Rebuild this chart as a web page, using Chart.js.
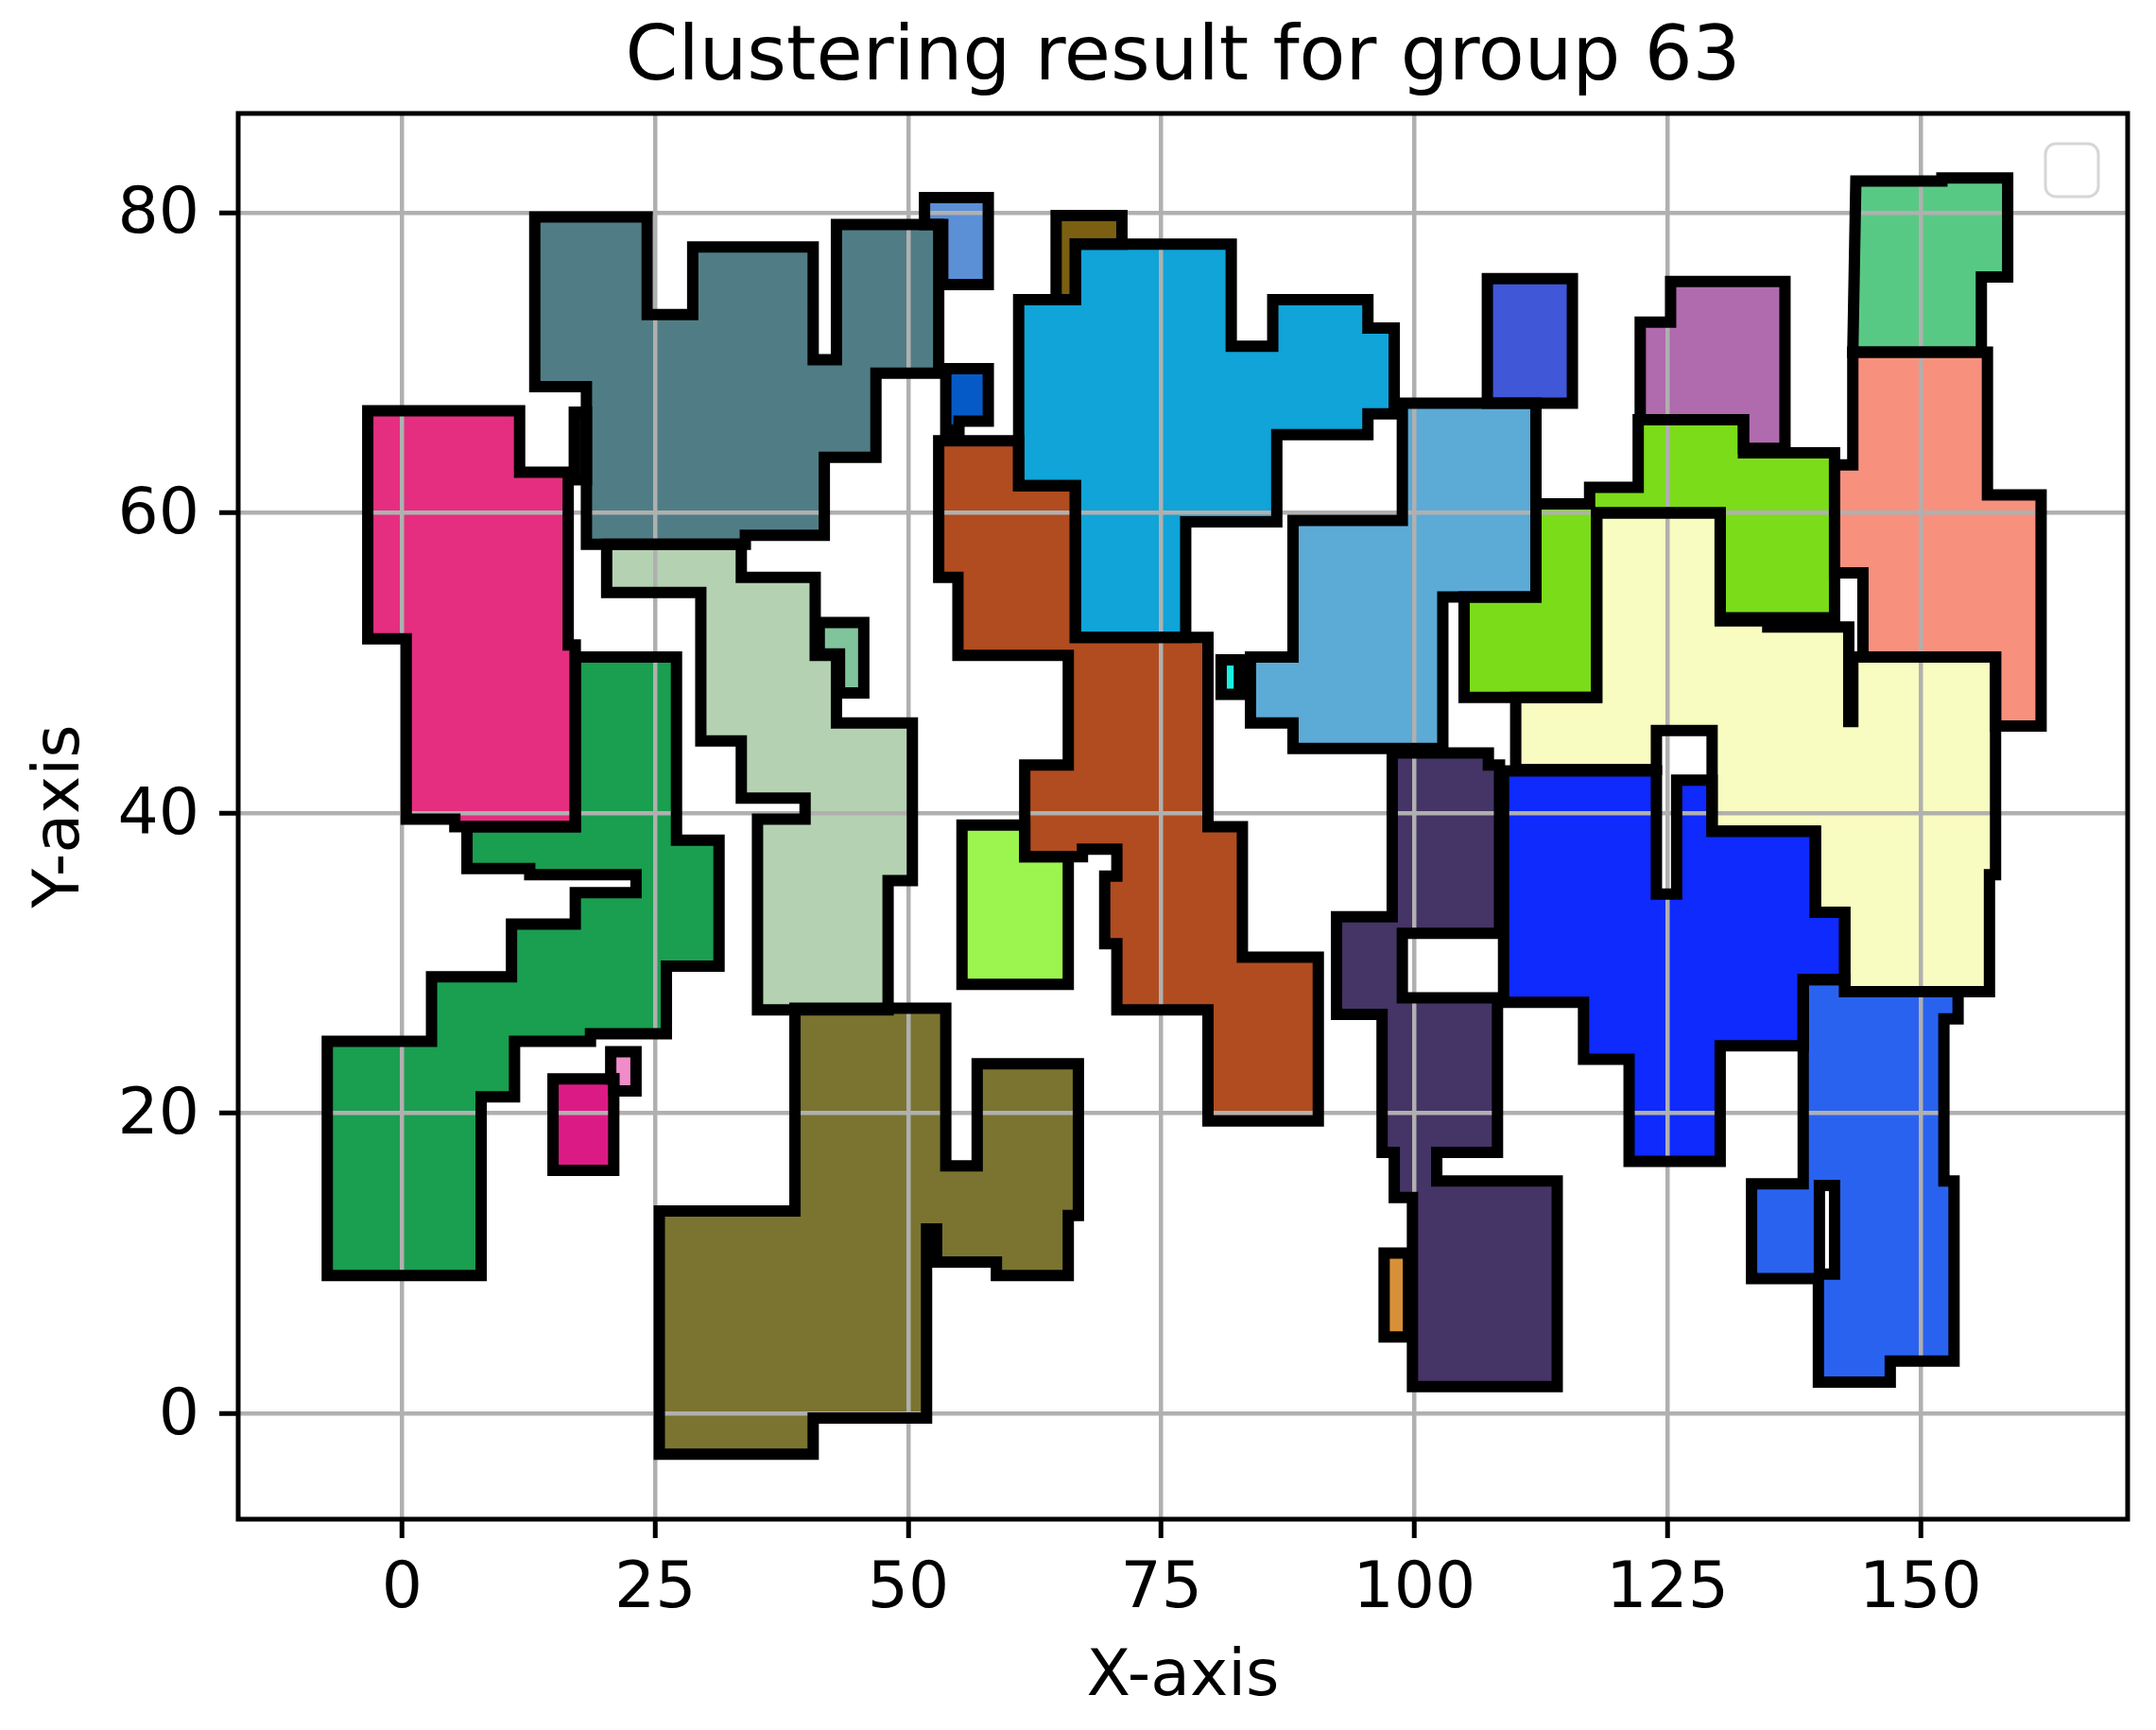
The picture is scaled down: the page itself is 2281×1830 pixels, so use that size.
<!DOCTYPE html>
<html>
<head>
<meta charset="utf-8">
<script src="https://cdn.jsdelivr.net/npm/chart.js@4.4.1/dist/chart.umd.min.js"></script>
<style>
  html, body { margin: 0; padding: 0; background: #fff; }
  #wrap { width: 2281px; height: 1830px; }
</style>
</head>
<body>
<div id="wrap"><canvas id="clusterChart" width="2281" height="1830"></canvas></div>
<script>
// axis ticks
const xTicks = [0, 25, 50, 75, 100, 125, 150];
const yTicks = [0, 20, 40, 60, 80];

// cluster outlines, corner points in data units [x, y]
const pinkCluster = [[-3.4,66.8],[11.6,66.8],[11.6,62.7],[16.4,62.7],[16.4,51.2],[17.1,51.2],[17.1,39.1],[5.2,39.1],[5.2,39.6],[0.4,39.6],[0.4,51.6],[-3.4,51.6]];
const darkSliver = [[17.0,66.7],[18.2,66.7],[18.2,62.2],[17.0,62.2]];
const tealCluster = [[13.1,79.7],[24.2,79.7],[24.2,73.2],[28.7,73.2],[28.7,77.7],[40.6,77.7],[40.6,70.2],[42.9,70.2],[42.9,79.2],[53.0,79.2],[53.0,69.3],[46.8,69.3],[46.8,63.7],[41.7,63.7],[41.7,58.5],[33.9,58.5],[33.9,57.9],[18.2,57.9],[18.2,68.4],[13.1,68.4]];
const sageCluster = [[20.2,57.9],[33.5,57.9],[33.5,55.7],[40.8,55.7],[40.8,50.5],[42.9,50.5],[42.9,46.0],[50.4,46.0],[50.4,35.5],[48.0,35.5],[48.0,26.9],[35.1,26.9],[35.1,39.6],[39.8,39.6],[39.8,41.0],[33.5,41.0],[33.5,44.8],[29.5,44.8],[29.5,54.7],[20.2,54.7]];
const mintCluster = [[41.2,52.7],[45.6,52.7],[45.6,48.0],[43.2,48.0],[43.2,50.6],[41.2,50.6]];
const greenCluster = [[17.1,50.4],[27.1,50.4],[27.1,38.2],[31.3,38.2],[31.3,29.8],[26.1,29.8],[26.1,25.3],[18.6,25.3],[18.6,24.8],[11.1,24.8],[11.1,21.1],[7.8,21.1],[7.8,9.2],[-7.4,9.2],[-7.4,24.8],[2.9,24.8],[2.9,29.1],[10.8,29.1],[10.8,32.6],[17.1,32.6],[17.1,34.7],[23.1,34.7],[23.1,35.9],[12.6,35.9],[12.6,36.3],[6.4,36.3],[6.4,39.1],[17.1,39.1]];
const magentaCluster = [[14.9,22.3],[20.9,22.3],[20.9,16.2],[14.9,16.2]];
const pinkSpeck = [[20.6,24.1],[23.1,24.1],[23.1,21.5],[20.9,21.5],[20.9,22.3],[20.6,22.3]];
const oliveCluster = [[38.8,27.0],[53.7,27.0],[53.7,16.5],[56.8,16.5],[56.8,23.3],[66.8,23.3],[66.8,13.2],[65.8,13.2],[65.8,9.2],[58.7,9.2],[58.7,10.1],[52.8,10.1],[52.8,12.3],[51.8,12.3],[51.8,-0.3],[40.6,-0.3],[40.6,-2.7],[25.4,-2.7],[25.4,13.5],[38.8,13.5]];
const limeCluster = [[55.3,39.2],[61.5,39.2],[61.5,37.1],[65.8,37.1],[65.8,28.6],[55.3,28.6]];
const brownCluster = [[53.0,64.8],[60.9,64.8],[60.9,61.8],[66.5,61.8],[66.5,51.7],[79.6,51.7],[79.6,39.1],[83.0,39.1],[83.0,30.4],[90.5,30.4],[90.5,19.5],[79.6,19.5],[79.6,26.9],[70.6,26.9],[70.6,31.3],[69.4,31.3],[69.4,35.8],[70.6,35.8],[70.6,37.6],[67.2,37.6],[67.2,37.1],[61.5,37.1],[61.5,43.2],[65.8,43.2],[65.8,50.5],[54.9,50.5],[54.9,55.7],[53.0,55.7]];
const cyanCluster = [[66.5,77.9],[81.9,77.9],[81.9,71.1],[86.0,71.1],[86.0,74.2],[95.4,74.2],[95.4,72.3],[98.0,72.3],[98.0,66.6],[95.4,66.6],[95.4,65.2],[86.4,65.2],[86.4,59.4],[77.4,59.4],[77.4,51.7],[66.5,51.7],[66.5,61.8],[60.9,61.8],[60.9,74.2],[66.5,74.2]];
const umberSpeck = [[64.6,79.8],[71.1,79.8],[71.1,77.9],[66.5,77.9],[66.5,74.2],[64.6,74.2]];
const skySpeck = [[51.6,81.0],[57.9,81.0],[57.9,75.2],[53.4,75.2],[53.4,79.2],[51.6,79.2]];
const navySpeck = [[53.7,69.6],[57.9,69.6],[57.9,66.1],[55.0,66.1],[55.0,65.5],[53.7,65.5]];
const steelCluster = [[98.8,67.3],[112.0,67.3],[112.0,54.4],[102.8,54.4],[102.8,44.3],[88.0,44.3],[88.0,46.0],[83.8,46.0],[83.8,50.4],[88.0,50.4],[88.0,59.5],[98.8,59.5]];
const aquaSpeck = [[80.9,50.2],[82.7,50.2],[82.7,47.9],[80.9,47.9]];
const royalCluster = [[107.2,75.6],[115.6,75.6],[115.6,67.3],[107.2,67.3]];
const orchidCluster = [[122.3,72.7],[125.3,72.7],[125.3,75.4],[136.6,75.4],[136.6,64.3],[132.5,64.3],[132.5,66.2],[122.3,66.2]];
const limeGreenCluster = [[104.9,54.4],[112.0,54.4],[112.0,60.6],[117.3,60.6],[117.3,61.7],[122.1,61.7],[122.1,66.2],[132.5,66.2],[132.5,64.0],[141.5,64.0],[141.5,53.0],[130.2,53.0],[130.2,60.0],[118.0,60.0],[118.0,47.7],[104.9,47.7]];
const salmonCluster = [[143.3,70.7],[156.6,70.7],[156.6,61.2],[161.9,61.2],[161.9,45.8],[157.4,45.8],[157.4,50.4],[144.3,50.4],[144.3,56.0],[141.5,56.0],[141.5,63.2],[143.3,63.2]];
const seaGreenCluster = [[143.6,82.1],[152.1,82.1],[152.1,82.3],[158.6,82.3],[158.6,75.7],[156.0,75.7],[156.0,70.7],[143.3,70.7]];
const creamCluster = [[118.0,60.0],[130.2,60.0],[130.2,52.8],[134.9,52.8],[134.9,52.4],[142.9,52.4],[142.9,46.1],[143.3,46.1],[143.3,50.4],[157.4,50.4],[157.4,35.9],[156.8,35.9],[156.8,28.1],[142.5,28.1],[142.5,33.4],[139.6,33.4],[139.6,38.8],[129.4,38.8],[129.4,45.5],[123.9,45.5],[123.9,42.9],[110.0,42.9],[110.0,47.7],[118.0,47.7]];
const blueCluster = [[108.8,42.8],[123.9,42.8],[123.9,34.6],[125.9,34.6],[125.9,42.2],[129.4,42.2],[129.4,38.8],[139.6,38.8],[139.6,33.4],[142.5,33.4],[142.5,28.9],[138.4,28.9],[138.4,24.5],[130.2,24.5],[130.2,16.8],[121.2,16.8],[121.2,23.6],[116.7,23.6],[116.7,27.4],[108.8,27.4]];
const purpleCluster = [[97.8,44.0],[107.3,44.0],[107.3,43.2],[108.4,43.2],[108.4,32.0],[98.8,32.0],[98.8,27.7],[108.2,27.7],[108.2,17.4],[102.2,17.4],[102.2,15.5],[114.1,15.5],[114.1,1.8],[99.8,1.8],[99.8,14.4],[98.0,14.4],[98.0,17.4],[96.8,17.4],[96.8,26.6],[92.3,26.6],[92.3,33.1],[97.8,33.1]];
const orangeSpeck = [[97.0,10.7],[99.4,10.7],[99.4,5.1],[97.0,5.1]];
const azureCluster = [[138.4,28.9],[142.5,28.9],[142.5,28.1],[153.7,28.1],[153.7,26.3],[152.3,26.3],[152.3,15.5],[153.3,15.5],[153.3,3.5],[147.0,3.5],[147.0,2.1],[139.9,2.1],[139.9,9.0],[133.3,9.0],[133.3,15.3],[138.4,15.3]];
const azureSlit = [[140.0,15.2],[141.5,15.2],[141.5,9.3],[140.0,9.3]];

const clusterShapes = [
    pinkCluster, darkSliver, tealCluster, sageCluster, mintCluster, greenCluster, magentaCluster, pinkSpeck,
    oliveCluster, limeCluster, brownCluster, cyanCluster, umberSpeck, skySpeck, navySpeck, steelCluster,
    aquaSpeck, royalCluster, orchidCluster, limeGreenCluster, salmonCluster, seaGreenCluster, creamCluster,
    blueCluster, purpleCluster, orangeSpeck, azureCluster, azureSlit
];
const clusterColors = [
    '#e52e7f', '#1c0c22', '#507d85', '#b4d2b2', '#80c49c', '#1a9e50', '#dc1a86', '#f08cc8',
    '#7a7430', '#9cf54e', '#b04c20', '#10a4d9', '#7a6010', '#5b8fd6', '#065ac8', '#5caad6',
    '#1af0e0', '#4057d8', '#b06aae', '#7bdc1a', '#f7917e', '#58c985', '#f9fcc0',
    '#0e2afc', '#453466', '#d89038', '#2a62f0', '#ffffff'
];

const FONT = "'DejaVu Sans', sans-serif";

// fills go under the grid, outlines are drawn by the line datasets on top
const clusterFillPlugin = {
    id: 'clusterFill',
    beforeDraw(chart) {
        const { ctx, chartArea } = chart;
        ctx.save();
        ctx.beginPath();
        ctx.rect(chartArea.left, chartArea.top, chartArea.width, chartArea.height);
        ctx.clip();
        chart.data.datasets.forEach((ds, i) => {
            const pts = chart.getDatasetMeta(i).data;
            if (!pts.length) return;
            ctx.beginPath();
            pts.forEach((p, k) => (k ? ctx.lineTo(p.x, p.y) : ctx.moveTo(p.x, p.y)));
            ctx.closePath();
            ctx.fillStyle = ds.backgroundColor;
            ctx.fill();
        });
        ctx.restore();
    }
};

// axes frame and the empty legend box
const framePlugin = {
    id: 'axesFrame',
    afterDatasetsDraw(chart) {
        const { ctx, chartArea } = chart;
        ctx.save();
        ctx.strokeStyle = '#000';
        ctx.lineWidth = 5;
        ctx.strokeRect(chartArea.left, chartArea.top, chartArea.width, chartArea.height);

        const size = 56;
        const bx = chartArea.right - 31 - size;
        const by = chartArea.top + 32;
        ctx.beginPath();
        ctx.roundRect(bx, by, size, size, 11);
        ctx.fillStyle = 'rgba(255,255,255,0.8)';
        ctx.fill();
        ctx.strokeStyle = '#d6d6d6';
        ctx.lineWidth = 3;
        ctx.stroke();
        ctx.restore();
    }
};

const datasets = clusterShapes.map((pts, i) => ({
    data: pts.concat([pts[0], pts[1]]).map(([x, y]) => ({ x, y })),
    showLine: true,
    fill: false,
    tension: 0,
    borderColor: '#000',
    borderWidth: 12,
    borderJoinStyle: 'miter',
    borderCapStyle: 'butt',
    backgroundColor: clusterColors[i],
    pointRadius: 0,
    pointHoverRadius: 0
}));

new Chart(document.getElementById('clusterChart'), {
    type: 'scatter',
    data: { datasets },
    options: {
        responsive: false,
        animation: false,
        devicePixelRatio: 1,
        events: [],
        layout: { padding: { left: 10, right: 30, top: 0, bottom: 0 } },
        plugins: {
            legend: { display: false },
            tooltip: { enabled: false },
            title: {
                display: true,
                fullSize: false,
                text: 'Clustering result for group 63',
                color: '#000',
                font: { family: FONT, size: 80, weight: 'normal', lineHeight: 1.2 },
                padding: { top: 15, bottom: 9 }
            }
        },
        scales: {
            x: {
                type: 'linear',
                min: -16.2,
                max: 170.45,
                afterBuildTicks: axis => { axis.ticks = xTicks.map(v => ({ value: v })); },
                afterFit: axis => { axis.height = 223; },
                border: { display: false },
                grid: { color: '#b0b0b0', lineWidth: 4.5, tickColor: '#000', tickWidth: 5, tickLength: 20 },
                ticks: { color: '#000', font: { family: FONT, size: 68 }, padding: 15, maxRotation: 0 },
                title: {
                    display: true, text: 'X-axis', color: '#000',
                    font: { family: FONT, size: 68, lineHeight: 1.2 },
                    padding: { top: 0, bottom: 14 }
                }
            },
            y: {
                type: 'linear',
                min: -7.03,
                max: 86.6,
                afterBuildTicks: axis => { axis.ticks = yTicks.map(v => ({ value: v })); },
                afterFit: axis => { axis.width = 242; },
                border: { display: false },
                grid: { color: '#b0b0b0', lineWidth: 4.5, tickColor: '#000', tickWidth: 5, tickLength: 20 },
                ticks: { color: '#000', font: { family: FONT, size: 68 }, padding: 21, labelOffset: 4 },
                title: {
                    display: true, text: 'Y-axis', color: '#000',
                    font: { family: FONT, size: 68, lineHeight: 1.2 },
                    padding: { top: 15, bottom: 0 }
                }
            }
        }
    },
    plugins: [clusterFillPlugin, framePlugin]
});
</script>
</body>
</html>
